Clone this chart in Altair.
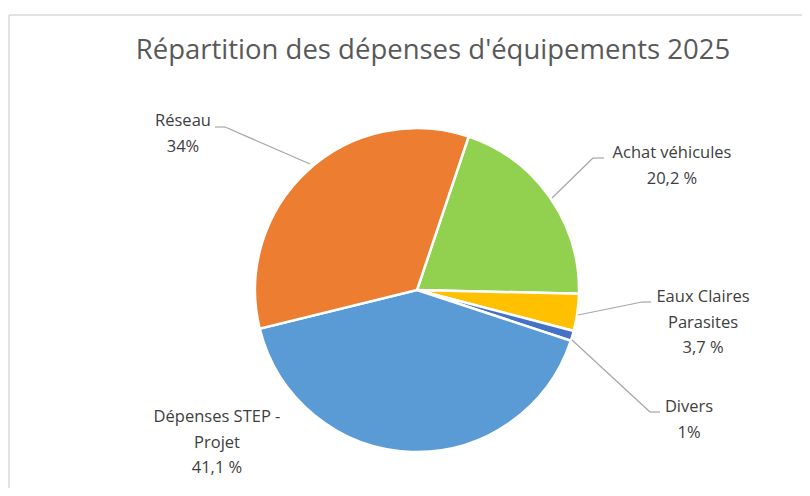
import math
import altair as alt
import pandas as pd

# ---- data ----
categories = ["Achat véhicules", "Eaux Claires Parasites", "Divers", "Dépenses STEP - Projet", "Réseau"]
values = [20.2, 3.7, 1.0, 41.1, 34.0]
colors = ["#92D050", "#FFC000", "#4472C4", "#5B9BD5", "#ED7D31"]
label_lines = [
    ["Achat véhicules", "20,2 %"],
    ["Eaux Claires", "Parasites", "3,7 %"],
    ["Divers", "1%"],
    ["Dépenses STEP -", "Projet", "41,1 %"],
    ["Réseau", "34%"],
]
title_text = "Répartition des dépenses d'équipements 2025"

# ---- layout (chart coordinates = page - 8) ----
W, H = 794, 480
CX, CY, R = 409, 282, 162
START = math.radians(18.6)
label_pos = [  # (center x, first baseline y) per category
    (664, 150),
    (695, 294),
    (681, 404),
    (209, 414),
    (175, 118),
]
line_step = 25.5
leaders = [  # segments (x1, y1, x2, y2)
    (585, 150, 596, 150), (585, 150, 544, 190),
    (634, 294, 643, 294), (634, 294, 570, 307),
    (642, 404, 652, 404), (642, 404, 564, 332),
    (207, 119, 217, 119), (217, 119, 302, 156),
]

pie_df = pd.DataFrame({"cat": categories, "value": values, "idx": list(range(len(values)))})

pie = alt.Chart(pie_df).mark_arc(
    outerRadius=R, stroke="white", strokeWidth=2.5
).encode(
    theta=alt.Theta("value:Q", stack=True, scale=alt.Scale(range=[START, START + 2 * math.pi])),
    color=alt.Color("cat:N", scale=alt.Scale(domain=categories, range=colors), legend=None),
    order=alt.Order("idx:Q"),
    x=alt.value(CX),
    y=alt.value(CY),
)

rows = []
for (lx, ly), lines in zip(label_pos, label_lines):
    for i, t in enumerate(lines):
        rows.append({"t": t, "x": lx, "y": ly + i * line_step})
lab_df = pd.DataFrame(rows)
labels = alt.Chart(lab_df).mark_text(
    font="Open Sans", fontSize=16.5, color="#404040", align="center", baseline="alphabetic"
).encode(
    x=alt.X("x:Q", scale=None), y=alt.Y("y:Q", scale=None), text="t:N"
)

seg_df = pd.DataFrame(leaders, columns=["x1", "y1", "x2", "y2"])
lead = alt.Chart(seg_df).mark_rule(color="#A6A6A6", strokeWidth=1.2).encode(
    x=alt.X("x1:Q", scale=None), y=alt.Y("y1:Q", scale=None),
    x2="x2:Q", y2="y2:Q",
)

border_df = pd.DataFrame([(1, 7, W, 7), (1, 7, 1, H)], columns=["x1", "y1", "x2", "y2"])
border = alt.Chart(border_df).mark_rule(color="#D9D9D9", strokeWidth=1.5).encode(
    x=alt.X("x1:Q", scale=None), y=alt.Y("y1:Q", scale=None),
    x2="x2:Q", y2="y2:Q",
)

title = alt.Chart(pd.DataFrame({"t": [title_text]})).mark_text(
    font="Open Sans", fontSize=27.5, color="#595959", align="center", baseline="alphabetic"
).encode(x=alt.value(425), y=alt.value(51), text="t:N")

chart = alt.layer(border, pie, lead, labels, title).properties(
    width=W, height=H, autosize=alt.AutoSizeParams(type="none"), padding=0
).configure_view(stroke=None)

chart.save("out.html", embed_options={"renderer": "svg", "actions": False})
